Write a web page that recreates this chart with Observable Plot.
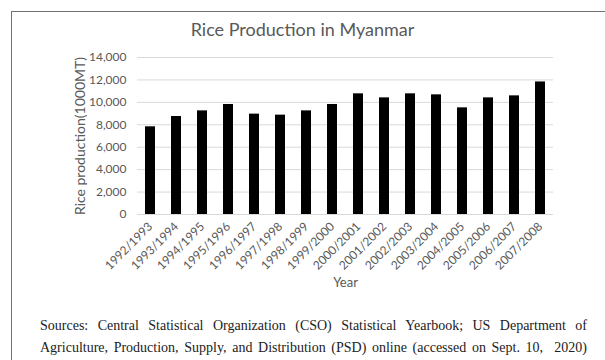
<!DOCTYPE html>
<html>
<head>
<meta charset="utf-8">
<script src="https://cdn.jsdelivr.net/npm/d3@7"></script>
<script src="https://cdn.jsdelivr.net/npm/@observablehq/plot@0.6"></script>
<style>
  html, body { margin: 0; padding: 0; background: #fff; }
  #wrap { position: relative; width: 605px; height: 360px; overflow: hidden; background: #fff; }
  #frame { position: absolute; left: 11px; top: 11px; width: 700px; height: 500px; border-top: 1px solid #707070; border-left: 1px solid #707070; }
  #title { position: absolute; left: 0; width: 605px; top: 18px; text-align: center; font-family: Lato, sans-serif; font-size: 18px; color: #595959; }
  #chart { position: absolute; left: 0; top: 40px; }
  #chart g[aria-label="y-axis label"] text { font-size: 14px; }
  #chart g[aria-label="x-axis label"] text { font-size: 13px; }
  .src { position: absolute; left: 40px; width: 547px; line-height: 16px; font-family: "Liberation Serif", serif; font-size: 14px; color: #222; text-align: justify; text-align-last: justify; white-space: nowrap; }
</style>
</head>
<body>
<div id="wrap">
  <div id="frame"></div>
  <div id="title">Rice Production in Myanmar</div>
  <div id="chart"></div>
  <div class="src" id="src1" style="top:318px">Sources: Central Statistical Organization (CSO) Statistical Yearbook; US Department of</div>
  <div class="src" id="src2" style="top:340px">Agriculture, Production, Supply, and Distribution (PSD) online (accessed on Sept. 10,&nbsp; 2020)</div>
</div>
<script>
const years = ["1992/1993","1993/1994","1994/1995","1995/1996","1996/1997","1997/1998","1998/1999","1999/2000","2000/2001","2001/2002","2002/2003","2003/2004","2004/2005","2005/2006","2006/2007","2007/2008"];
const production = [7820, 8740, 9240, 9810, 8950, 8860, 9240, 9810, 10760, 10400, 10760, 10670, 9510, 10400, 10580, 11820];
const yTicks = [0, 2000, 4000, 6000, 8000, 10000, 12000, 14000];

const data = years.map((y, i) => ({year: y, value: production[i]}));

const chart = Plot.plot({
  width: 605,
  height: 255,
  marginTop: 17,
  marginBottom: 81,
  marginLeft: 137,
  marginRight: 52,
  style: {fontFamily: "Lato, sans-serif", fontSize: "12px", color: "#595959", background: "transparent"},
  x: {domain: years, padding: 0, label: null},
  y: {domain: [0, 14000], label: null},
  marks: [
    Plot.ruleY(yTicks, {stroke: "#d9d9d9", strokeWidth: 1}),
    Plot.barY(data, {x: "year", y: "value", fill: "#000", insetLeft: 8, insetRight: 8}),
    Plot.axisY({ticks: yTicks, tickSize: 0, tickPadding: 11, tickFormat: d3.format(","), label: "Rice production(1000MT)", labelAnchor: "center", labelOffset: 62, labelArrow: "none", fill: "#595959"}),
    Plot.axisX({tickSize: 0, tickPadding: 10, tickRotate: -45, label: "Year", labelAnchor: "center", labelOffset: 72, labelArrow: "none", fill: "#595959"})
  ]
});
document.getElementById("chart").appendChild(chart);
</script>
</body>
</html>
